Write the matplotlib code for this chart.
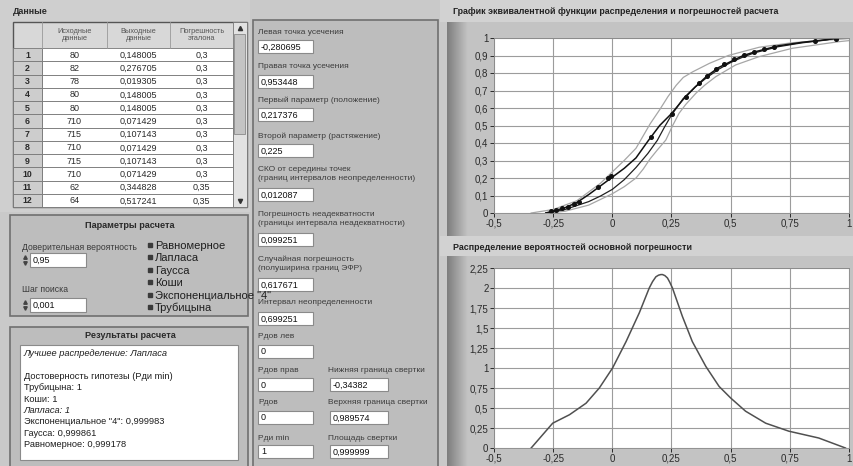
import numpy as np
import matplotlib
matplotlib.use("Agg")
import matplotlib.pyplot as plt
from matplotlib.patches import Rectangle
from matplotlib.colors import LinearSegmentedColormap

plt.rcParams['font.family'] = ['Liberation Sans', 'DejaVu Sans']

# ---------------- data ----------------
row_nums = list(range(1, 13))
src_data = [80, 82, 78, 80, 80, 710, 715, 710, 715, 710, 62, 64]
out_data = [0.148005, 0.276705, 0.019305, 0.148005, 0.148005, 0.071429,
            0.107143, 0.071429, 0.107143, 0.071429, 0.344828, 0.517241]
ref_err = [0.3] * 10 + [0.35, 0.35]
table_head = ["Исходные\nданные", "Выходные\nданные", "Погрешность\nэталона"]

conf_prob = "0,95"
search_step = "0,001"
distributions = ["Равномерное", "Лапласа", "Гаусса", "Коши",
                 "Экспоненциальное \"4\"", "Трубицына"]

result_lines = ["Лучшее распределение: Лапласа", "",
                "Достоверность гипотезы (Pди min)", "Трубицына: 1", "Коши: 1",
                "Лапласа: 1", "Экспоненциальное \"4\": 0,999983",
                "Гаусса: 0,999861", "Равномерное: 0,999178"]

left_labels = ["Левая точка усечения", "Правая точка усечения",
               "Первый параметр (положение)", "Второй параметр (растяжение)",
               "СКО от середины точек\n(границ интервалов неопределенности)",
               "Погрешность неадекватности\n(границы интервала неадекватности)",
               "Случайная погрешность\n(полуширина границ ЭФР)",
               "Интервал неопределенности", "Pдов лев", "Pдов прав", "Pдов", "Pди min"]
left_values = ["-0,280695", "0,953448", "0,217376", "0,225", "0,012087", "0,099251",
               "0,617671", "0,699251", "0", "0", "0", "1"]
right_labels = ["Нижняя граница свертки", "Верхняя граница свертки", "Площадь свертки"]
right_values = ["-0,34382", "0,989574", "0,999999"]

# empirical points of the distribution function
emp_x = [-0.258, -0.237, -0.213, -0.188, -0.16, -0.139, -0.062, -0.02, -0.006, 0.163,
         0.252, 0.31, 0.367, 0.402, 0.437, 0.472, 0.514, 0.556, 0.598, 0.64, 0.683,
         0.858, 0.943]
emp_y = [0.012, 0.018, 0.027, 0.036, 0.051, 0.065, 0.15, 0.198, 0.211, 0.436,
         0.565, 0.665, 0.741, 0.783, 0.821, 0.85, 0.878, 0.903, 0.922, 0.937, 0.95,
         0.985, 0.993]
# equivalent distribution function
fit_x = [-0.281, -0.2, -0.15, -0.1, -0.05, 0.0, 0.05, 0.1, 0.15, 0.2, 0.25, 0.3, 0.35,
         0.4, 0.45, 0.5, 0.55, 0.6, 0.7, 0.8, 0.9, 0.953]
fit_y = [0.0, 0.03, 0.06, 0.105, 0.155, 0.205, 0.255, 0.315, 0.41, 0.5, 0.568, 0.65,
         0.72, 0.783, 0.832, 0.865, 0.898, 0.92, 0.955, 0.975, 0.99, 1.0]
# convolution result
conv_x = [-0.281, -0.2, -0.1, -0.05, 0.0, 0.05, 0.1, 0.15, 0.19, 0.22, 0.25, 0.3, 0.35,
          0.4, 0.45, 0.5, 0.55, 0.6, 0.7, 0.8, 0.9, 0.953]
conv_y = [0.0, 0.02, 0.065, 0.097, 0.135, 0.19, 0.26, 0.34, 0.415, 0.49, 0.56, 0.655,
          0.72, 0.775, 0.822, 0.86, 0.89, 0.915, 0.95, 0.972, 0.988, 1.0]
# error band
up_x = [-0.343, -0.25, -0.15, -0.05, 0.0, 0.05, 0.1, 0.13, 0.16, 0.2, 0.235, 0.27, 0.3,
        0.34, 0.41, 0.49, 0.62, 0.76, 0.96, 1.0]
up_y = [0.0, 0.02, 0.07, 0.17, 0.235, 0.3, 0.37, 0.44, 0.51, 0.59, 0.665, 0.73, 0.775,
        0.807, 0.855, 0.9, 0.947, 0.973, 0.993, 0.997]
lo_x = [-0.28, -0.2, -0.1, 0.0, 0.05, 0.1, 0.13, 0.16, 0.19, 0.226, 0.255, 0.282, 0.31,
        0.353, 0.39, 0.437, 0.521, 0.619, 0.76, 0.957, 1.0]
lo_y = [0.0, 0.01, 0.045, 0.11, 0.15, 0.2, 0.25, 0.31, 0.36, 0.417, 0.5, 0.57, 0.62,
        0.684, 0.73, 0.779, 0.846, 0.893, 0.941, 0.979, 0.985]

# density of the basic error
dens_x = [-0.343, -0.252, -0.181, -0.111, -0.055, 0.001, 0.058, 0.114, 0.156, 0.17,
          0.184, 0.195, 0.205, 0.212, 0.222, 0.233, 0.243, 0.254, 0.296, 0.338, 0.395,
          0.451, 0.5, 0.563, 0.648, 0.746, 0.872, 0.985]
dens_y = [0.0, 0.31, 0.416, 0.56, 0.75, 1.0, 1.33, 1.69, 2.0, 2.08, 2.14, 2.16, 2.168,
          2.168, 2.155, 2.125, 2.07, 2.0, 1.645, 1.33, 1.02, 0.77, 0.625, 0.46, 0.31,
          0.21, 0.125, 0.0]

x_ticks = [-0.5, -0.25, 0, 0.25, 0.5, 0.75, 1]
cdf_ticks = [i / 10 for i in range(11)]
pdf_ticks = [i * 0.25 for i in range(10)]


def comma(v):
    return ("%g" % v).replace(".", ",")


W, H = 854, 466
fig = plt.figure(figsize=(W / 100, H / 100), dpi=100)
fig.patch.set_facecolor('#c9c9c9')

bg = fig.add_axes([0, 0, 1, 1])
bg.set_xlim(0, W)
bg.set_ylim(H, 0)
bg.axis('off')


def rect(x, y, w, h, fc, ec='none', lw=0.8, z=1):
    bg.add_patch(Rectangle((x, y), w, h, facecolor=fc, edgecolor=ec, linewidth=lw, zorder=z))


def txt(x, y, s, size=6.3, ha='left', color='#2a2a2a', z=5, **kw):
    bg.text(x, y, s, fontsize=size, ha=ha, va='center', color=color, zorder=z, **kw)


def field(x, y, w, value, h=13):
    rect(x, y, w, h, 'white', '#8a8a8a', 0.8, z=3)
    txt(x + 3, y + h / 2 + 0.5, value, size=6.5, color='#111', z=4)


# ---- data table ----
rect(0, 0, 250, 212, '#cfcfcf')
txt(13, 12, "Данные", size=6.5, weight='bold')
col_x = [13, 42, 107, 170, 233]
top, head_h, row_h = 22, 26, 13.25
rect(13, top, 234, head_h + row_h * 12, '#d8d8d8', '#555555', 1.0, z=2)
for r in range(12):
    y0 = top + head_h + r * row_h
    rect(col_x[1], y0, col_x[4] - col_x[1], row_h, 'white', '#777777', 0.6, z=2)
    rect(col_x[0], y0, col_x[1] - col_x[0], row_h, '#cdcdcd', '#777777', 0.6, z=2)
    yc = y0 + row_h / 2 + 0.5
    txt((col_x[0] + col_x[1]) / 2, yc, str(row_nums[r]), size=6.3, ha='center', weight='bold')
    txt((col_x[1] + col_x[2]) / 2, yc, str(src_data[r]), size=6.5, ha='center')
    txt((col_x[2] + col_x[3]) / 2, yc, comma(out_data[r]), size=6.5, ha='center')
    txt((col_x[3] + col_x[4]) / 2, yc, comma(ref_err[r]), size=6.5, ha='center')
for i in range(1, 4):
    bg.plot([col_x[i], col_x[i]], [top, top + head_h], color='#999999', lw=0.6, zorder=3)
    txt((col_x[i] + col_x[i + 1]) / 2, top + head_h / 2, table_head[i - 1], size=5.3,
        ha='center', color='#555555', linespacing=1.1)
# scrollbar
rect(233, top, 14, head_h + row_h * 12, '#e2e2e2', '#777777', 0.6, z=3)
rect(234.5, top + 12, 11, 100, '#c4c4c4', '#8a8a8a', 0.6, z=3)
bg.plot([240], [top + 6], marker='^', ms=3, color='#333', zorder=4)
bg.plot([240], [top + head_h + row_h * 12 - 6], marker='v', ms=3, color='#333', zorder=4)

# ---- calculation parameters ----
rect(10, 215, 238, 101, '#bdbdbd', '#6f6f6f', 1.2, z=2)
txt(130, 226, "Параметры расчета", size=6.6, ha='center', weight='bold')
txt(22, 247, "Доверительная вероятность", size=6.2, color='#3a3a3a')
field(30, 253, 56, conf_prob, h=14)
txt(22, 290, "Шаг поиска", size=6.2, color='#3a3a3a')
field(30, 298, 56, search_step, h=14)
for yy in (260, 305):
    bg.plot([25.5], [yy - 3], marker='^', ms=2.5, color='#444', zorder=4)
    bg.plot([25.5], [yy + 3], marker='v', ms=2.5, color='#444', zorder=4)
for i, name in enumerate(distributions):
    yy = 246 + i * 12.4
    bg.plot([150], [yy - 1], marker='s', ms=2.8, color='#3a3a3a', zorder=4)
    txt(155, yy, name, size=8, color='#1e1e1e', z=8)

# ---- calculation results ----
rect(10, 327, 238, 145, '#bdbdbd', '#6f6f6f', 1.2, z=2)
txt(130, 336, "Результаты расчета", size=6.6, ha='center', weight='bold')
rect(20, 345, 218, 115, 'white', '#8a8a8a', 0.8, z=3)
for i, line in enumerate(result_lines):
    style = 'italic' if line.startswith("Лучшее") or line.startswith("Лапласа") else 'normal'
    txt(24, 354 + i * 11.3, line, size=6.7, color='#1e1e1e', style=style)

# ---- computed parameters column ----
rect(253, 20, 185, 452, '#bdbdbd', '#6f6f6f', 1.2, z=2)
label_y = [33, 67, 100, 136, 174, 219, 264, 303, 337, 370, 403, 438]
box_y = [40, 75, 108, 144, 188, 233, 278, 312, 345, 378, 411, 445]
for lab, val, ly, by in zip(left_labels, left_values, label_y, box_y):
    txt(258, ly, lab, size=6.0, color='#3c3c3c', linespacing=1.35)
    field(258, by, 55, val)
for lab, val, ly, by in zip(right_labels, right_values, label_y[9:], box_y[9:]):
    txt(328, ly, lab, size=6.0, color='#3c3c3c')
    field(330, by, 58, val)

# ---- chart frames ----
rect(440, 0, 414, 22, '#d2d2d2')
rect(440, 236, 414, 20, '#d2d2d2')
rect(447, 22, 407, 214, '#c3c3c3', z=1)
rect(447, 256, 407, 212, '#c3c3c3', z=1)
grad = LinearSegmentedColormap.from_list('frame', ['#7e7e7e', '#c3c3c3'])
for y0, y1 in ((22, 236), (256, 468)):
    bg.imshow(np.linspace(0, 1, 30)[None, :], cmap=grad, extent=(447, 468, y1, y0),
              aspect='auto', zorder=1.5)
bg.set_xlim(0, W)
bg.set_ylim(H, 0)
txt(453, 12, "График эквивалентной функции распределения и погрешностей расчета",
    size=6.4, weight='bold', color='#222')
txt(453, 247, "Распределение вероятностей основной погрешности",
    size=6.4, weight='bold', color='#222')


def chart(y_top, y_bot, yticks, ylim):
    ax = fig.add_axes([494 / W, 1 - y_bot / H, 355 / W, (y_bot - y_top) / H])
    ax.set_facecolor('white')
    ax.set_xlim(-0.5, 1)
    ax.set_ylim(*ylim)
    ax.set_xticks(x_ticks)
    ax.set_xticklabels([comma(v) for v in x_ticks])
    ax.set_yticks(yticks)
    ax.set_yticklabels([comma(v) for v in yticks])
    ax.grid(True, color='#9c9c9c', lw=0.8)
    ax.set_axisbelow(True)
    ax.tick_params(direction='out', length=3, width=0.7, labelsize=7,
                   colors='#2a2a2a', pad=1)
    for s in ax.spines.values():
        s.set_color('#8a8a8a')
        s.set_linewidth(0.6)
    return ax


ax1 = chart(38, 213, cdf_ticks, (0, 1))
ax1.plot(up_x, up_y, color='#a6a6a6', lw=0.9)
ax1.plot(lo_x, lo_y, color='#a6a6a6', lw=0.9)
ax1.plot(conv_x, conv_y, color='#202020', lw=0.9)
ax1.plot(fit_x, fit_y, color='#111111', lw=1.1)
ax1.plot(emp_x, emp_y, ls='none', marker='o', ms=2.6, color='#111111')

ax2 = chart(268, 448, pdf_ticks, (0, 2.25))
ax2.plot(dens_x, dens_y, color='#505050', lw=1.1)

fig.savefig('out.png', dpi=100)
